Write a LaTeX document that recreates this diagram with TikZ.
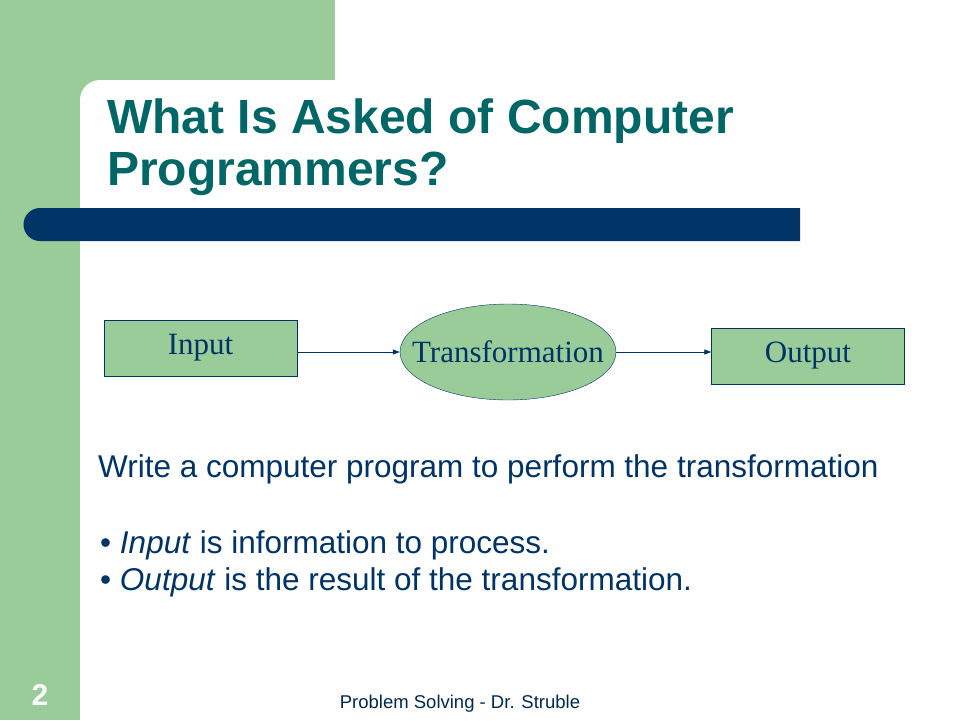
\documentclass[tikz,border=0pt]{standalone}
\usepackage{fontspec}
\usepackage{xcolor}
\usetikzlibrary{arrows.meta,positioning,shapes.geometric}
\setmainfont{Liberation Serif}
\newfontfamily\slidefont{Liberation Sans}
\definecolor{slidegreen}{HTML}{99CC99}
\definecolor{slideblue}{HTML}{003366}
\definecolor{slideteal}{HTML}{006666}

\begin{document}
\begin{tikzpicture}[x=1pt, y=-1pt,
    box/.style={draw=slideblue, fill=slidegreen, minimum width=193pt,
      minimum height=56pt, inner sep=0pt, text=slideblue,
      font=\fontsize{31}{33}\selectfont},
    oval/.style={ellipse, draw=slideblue, fill=slidegreen, minimum width=216pt,
      minimum height=96pt, inner xsep=-20pt, inner ysep=0pt, text=slideblue,
      font=\fontsize{31}{33}\selectfont},
    link/.style={-{Triangle[length=7pt, width=5pt]}, draw=slideblue, line width=0.8pt},
    body/.style={anchor=base west, inner sep=0pt, text=slideblue,
      font=\slidefont\fontsize{31.5}{34}\selectfont}]
\useasboundingbox (0,0) rectangle (960,720);
% background frame
\fill[slidegreen] (0,0) rectangle (335,120);
\fill[slidegreen] (0,0) rectangle (80,720);
\fill[white] (80,720) -- (80,100) arc[start angle=180, end angle=270, radius=20] -- (335,80)
  -- (335,0) -- (960,0) -- (960,720) -- cycle;
\fill[slideblue] (800,208) -- (40,208) arc[start angle=270, end angle=90, radius=16.5]
  -- (800,241) -- cycle;
% title
\node[anchor=base west, inner sep=0pt, text=slideteal, align=left,
  font=\slidefont\bfseries\fontsize{48}{52}\selectfont] (title) at (107,185)
  {What Is Asked of Computer\\Programmers?};
% diagram
\node[box] (input) at (200.5,348) {Input};
\node[oval] (transform) at (508,352) {Transformation};
\node[box] (output) at (808,356) {Output};
\draw[link] (input.east |- 0,352) -- (transform.west);
\draw[link] (transform.east) -- (output.west |- 0,352);
% text
\node[body] (task) at (98,477) {Write a computer program to perform the transformation};
\node[body] (bulletin) at (100,553) {\textbullet{} \textit{Input} is information to process.};
\node[body] (bulletout) at (100,590) {\textbullet{} \textit{Output} is the result of the transformation.};
% footer
\node[anchor=base, inner sep=0pt, text=white,
  font=\slidefont\bfseries\fontsize{30}{30}\selectfont] (pagenum) at (40,705) {2};
\node[anchor=base, inner sep=0pt, text=slideblue!80!black,
  font=\slidefont\fontsize{18.5}{20}\selectfont] (footer) at (460,708)
  {Problem Solving - Dr. Struble};
\end{tikzpicture}
\end{document}
